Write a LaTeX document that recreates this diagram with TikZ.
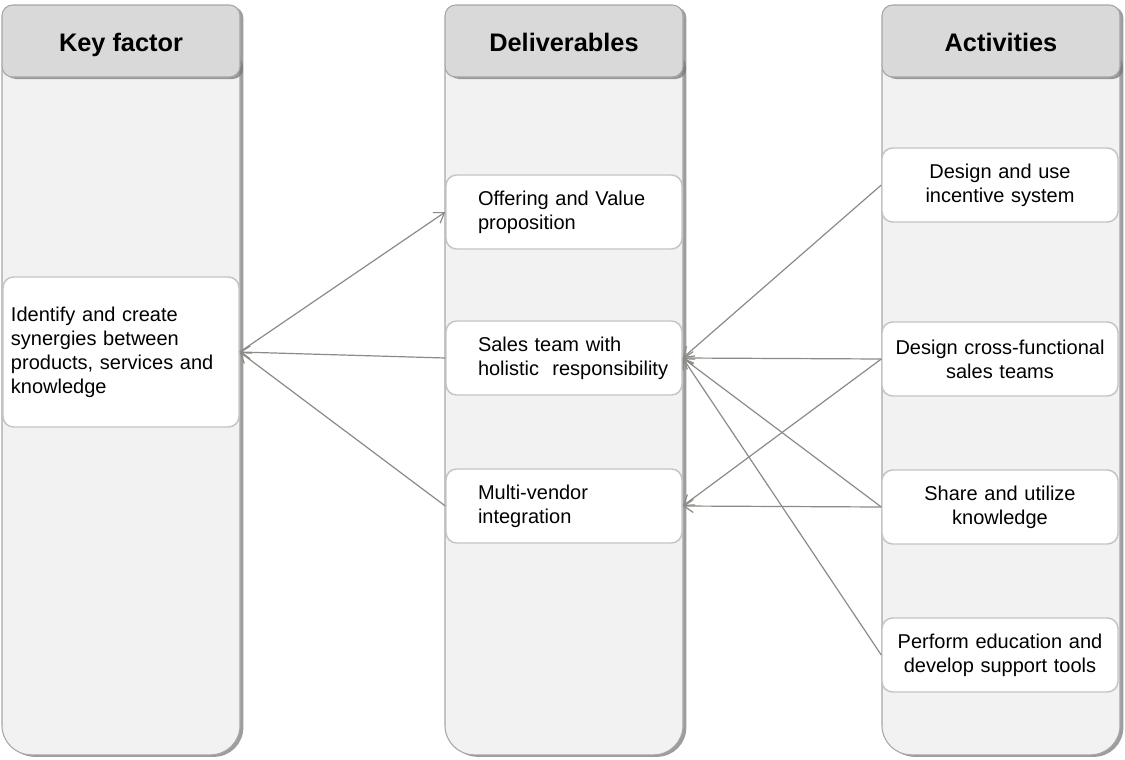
\documentclass[tikz,border=0pt]{standalone}
\usepackage{fontspec}
\setmainfont{Liberation Sans}
\usepackage{xcolor}
\usepackage[]{tikz}
\usetikzlibrary{positioning,shadows,arrows.meta}
\definecolor{headGray}{HTML}{D9D9D9}
\definecolor{colGray}{HTML}{F2F2F2}
\definecolor{edgeGray}{HTML}{A6A6A6}
\definecolor{boxGray}{HTML}{C4C4C4}
\definecolor{arrowGray}{HTML}{8C8A86}
\tikzstyle{colBody} =[rectangle, draw=edgeGray, fill=colGray, line width=0.8pt, rounded corners=22pt,
                      minimum width=178.5pt, minimum height=536pt,
                      drop shadow={shadow xshift=2.5pt, shadow yshift=-1.5pt, fill=black!55, opacity=0.7}]
\tikzstyle{colHead} =[rectangle, draw=edgeGray, fill=headGray, line width=0.8pt, rounded corners=8pt,
                      minimum width=178.5pt, minimum height=54pt, text height=18pt, text depth=3pt,
                      font=\fontsize{19}{23}\selectfont\bfseries,
                      drop shadow={shadow xshift=2.5pt, shadow yshift=-1.5pt, fill=black!55, opacity=0.7}]
\tikzstyle{boxKey}  =[rectangle, draw=boxGray, fill=white, line width=1.1pt, rounded corners=8pt,
                      minimum height=112.5pt, text width=165pt, inner xsep=6pt, align=left,
                      font=\fontsize{15}{18}\selectfont]
\tikzstyle{boxLeft} =[rectangle, draw=boxGray, fill=white, line width=1.1pt, rounded corners=8pt,
                      minimum height=55.5pt, text width=171pt, inner xsep=3pt, align=left,
                      execute at begin node={\leftskip=21pt}, font=\fontsize{15}{18}\selectfont]
\tikzstyle{boxMid}  =[rectangle, draw=boxGray, fill=white, line width=1.1pt, rounded corners=8pt,
                      minimum height=55.5pt, text width=165pt, inner xsep=6pt, align=center,
                      font=\fontsize{15}{18}\selectfont]

\begin{document}
\begin{tikzpicture}[x=0.75pt, y=-0.75pt, >={Straight Barb[length=2.5mm,width=3.4mm]}]
      \useasboundingbox (0,0) rectangle (1125,760);
      % columns
      \node[colBody] (body1) at (121,397.5) {};
      \node[colBody] (body2) at (564,397.5) {};
      \node[colBody] (body3) at (1001,397.5) {};
      \node[colHead] (head1) at (121,41) {Key factor};
      \node[colHead] (head2) at (564,41) {Deliverables};
      \node[colHead] (head3) at (1001,41) {Activities};
      % key factor
      \node[boxKey] (kf) at (121,352)
            {Identify and create\\synergies between\\products, services and\\knowledge};
      % deliverables
      \node[boxLeft] (off) at (564,212) {Offering and Value\\proposition};
      \node[boxLeft] (sal) at (564,358) {Sales team with\\holistic\ \ responsibility};
      \node[boxLeft] (mul) at (564,506) {Multi-vendor\\integration};
      % activities
      \node[boxMid] (inc) at (1000,185) {Design and use\\incentive system};
      \node[boxMid] (crs) at (1000,359) {Design cross-functional\\sales teams};
      \node[boxMid] (shr) at (1000,507) {Share and utilize\\knowledge};
      \node[boxMid] (edu) at (1000,655) {Perform education and\\develop support tools};
      % links
      \begin{scope}[draw=arrowGray, line width=0.9pt]
      \draw[->] (kf.east) -- (off.west);
      \draw[->] (sal.west) -- (kf.east);
      \draw[->] (mul.west) -- (kf.east);
      \draw[->] (inc.west) -- (sal.east);
      \draw[->] (crs.west) -- (sal.east);
      \draw[->] (crs.west) -- (mul.east);
      \draw[->] (shr.west) -- (sal.east);
      \draw[->] (shr.west) -- (mul.east);
      \draw[->] (edu.west) -- (sal.east);
      \end{scope}
    \end{tikzpicture}
\end{document}
